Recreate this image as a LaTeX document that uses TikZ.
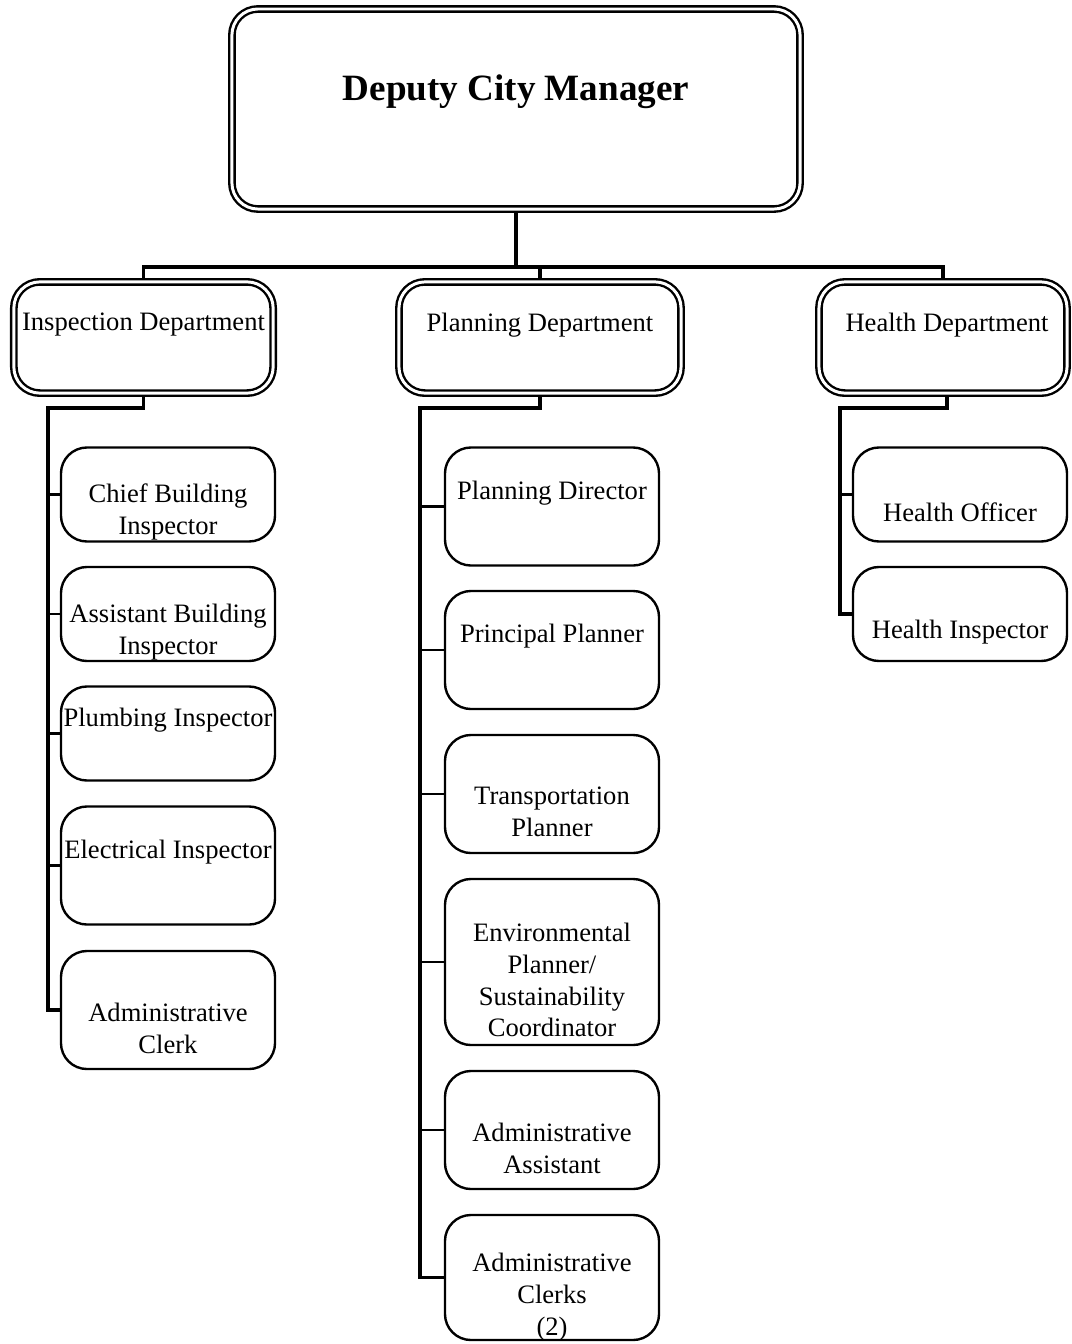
\documentclass[tikz,border=0pt]{standalone}
\usepackage{fontspec}
\setmainfont{Liberation Serif}
\usetikzlibrary{calc}

\tikzset{
	orgtop/.style={draw, double, line width=1.7pt, double distance=2.1pt, rounded corners=0.65cm, inner sep=0pt, outer sep=2.75pt},
	orgpost/.style={draw, line width=1.7pt, rounded corners=0.65cm, inner sep=0pt, minimum width=5.35cm},
	orgtxt/.style={align=center, inner sep=0pt, font=\fontsize{18.9}{22.7}\selectfont},
	orgline/.style={line width=2.6pt},
	orgtick/.style={line width=1.6pt}
}

\begin{document}
\begin{tikzpicture}[x=0.025cm, y=-0.025cm]
			%%%%% START %%%%%
			\useasboundingbox (0,0) rectangle (1072,1344);
			
			% top
			\node[orgtop, minimum width=14.2cm, minimum height=5cm] (dcm) at (516,109) {};
			\node[inner sep=0pt, font=\fontsize{26.4}{31}\selectfont\bfseries] (dcm-t) at (516,92) {Deputy City Manager};
			
			% departments
			\node[orgtop, minimum width=6.48cm, minimum height=2.78cm] (insp) at (143.5,337.5) {};
			\node[orgtop, minimum width=7.05cm, minimum height=2.78cm] (plan) at (540,337.5) {};
			\node[orgtop, minimum width=6.2cm, minimum height=2.78cm] (hlth) at (943,337.5) {};
			\node[orgtxt] (insp-t) at (143.5,325) {Inspection Department};
			\node[orgtxt] (plan-t) at (540,325) {Planning Department};
			\node[orgtxt] (hlth-t) at (947,325) {Health Department};
			
			\coordinate (bus) at (516,267);
			\draw[orgline] (dcm.south) -- (bus);
			\draw[orgline] (insp.north) |- (bus) -| (hlth.north);
			\draw[orgline] (plan.north) -- (plan.north |- bus);
			
			% inspection
			\node[orgpost, minimum height=2.35cm] (cbi) at (168,494.5) {};
			\node[orgpost, minimum height=2.35cm] (abi) at (168,614) {};
			\node[orgpost, minimum height=2.35cm] (pli) at (168,733.5) {};
			\node[orgpost, minimum height=2.95cm] (eli) at (168,865.5) {};
			\node[orgpost, minimum height=2.95cm] (adc) at (168,1010) {};
			\node[orgtxt] (cbi-t) at (168,512) {Chief Building\\Inspector};
			\node[orgtxt] (abi-t) at (168,632) {Assistant Building\\Inspector};
			\node[orgtxt] (pli-t) at (168,720) {Plumbing Inspector};
			\node[orgtxt] (eli-t) at (168,852) {Electrical Inspector};
			\node[orgtxt] (adc-t) at (168,1028) {Administrative\\Clerk};
			
			\coordinate (insp-s) at (48,408);
			\draw[orgline] (insp.south) |- (insp-s) -- (insp-s |- adc.west) -- (adc.west);
			\draw[orgtick] (insp-s |- cbi.west) -- (cbi.west);
			\draw[orgtick] (insp-s |- abi.west) -- (abi.west);
			\draw[orgtick] (insp-s |- pli.west) -- (pli.west);
			\draw[orgtick] (insp-s |- eli.west) -- (eli.west);
			
			% planning
			\node[orgpost, minimum height=2.95cm] (pdr) at (552,506.5) {};
			\node[orgpost, minimum height=2.95cm] (ppl) at (552,650) {};
			\node[orgpost, minimum height=2.95cm] (tpl) at (552,794) {};
			\node[orgpost, minimum height=4.15cm] (epl) at (552,962) {};
			\node[orgpost, minimum height=2.95cm] (aas) at (552,1130) {};
			\node[orgpost, minimum height=3.125cm] (acl) at (552,1277.5) {};
			\node[orgtxt] (pdr-t) at (552,493) {Planning Director};
			\node[orgtxt] (ppl-t) at (552,636) {Principal Planner};
			\node[orgtxt] (tpl-t) at (552,812) {Transportation\\Planner};
			\node[orgtxt] (epl-t) at (552,980) {Environmental\\Planner/\\Sustainability\\Coordinator};
			\node[orgtxt] (aas-t) at (552,1148) {Administrative\\Assistant};
			\node[orgtxt] (acl-t) at (552,1297) {Administrative\\Clerks\\(2)};
			
			\coordinate (plan-s) at (420,408);
			\draw[orgline] (plan.south) |- (plan-s) -- (plan-s |- acl.west) -- (acl.west);
			\draw[orgtick] (plan-s |- pdr.west) -- (pdr.west);
			\draw[orgtick] (plan-s |- ppl.west) -- (ppl.west);
			\draw[orgtick] (plan-s |- tpl.west) -- (tpl.west);
			\draw[orgtick] (plan-s |- epl.west) -- (epl.west);
			\draw[orgtick] (plan-s |- aas.west) -- (aas.west);
			
			% health
			\node[orgpost, minimum height=2.35cm] (hof) at (960,494.5) {};
			\node[orgpost, minimum height=2.35cm] (hin) at (960,614) {};
			\node[orgtxt] (hof-t) at (960,512) {Health Officer};
			\node[orgtxt] (hin-t) at (960,632) {Health Inspector};
			
			\coordinate (hlth-s) at (840,408);
			\draw[orgline] (hlth.south -| hlth-t) |- (hlth-s) -- (hlth-s |- hin.west) -- (hin.west);
			\draw[orgtick] (hlth-s |- hof.west) -- (hof.west);
			
			%%%%% END %%%%%
\end{tikzpicture}
\end{document}
